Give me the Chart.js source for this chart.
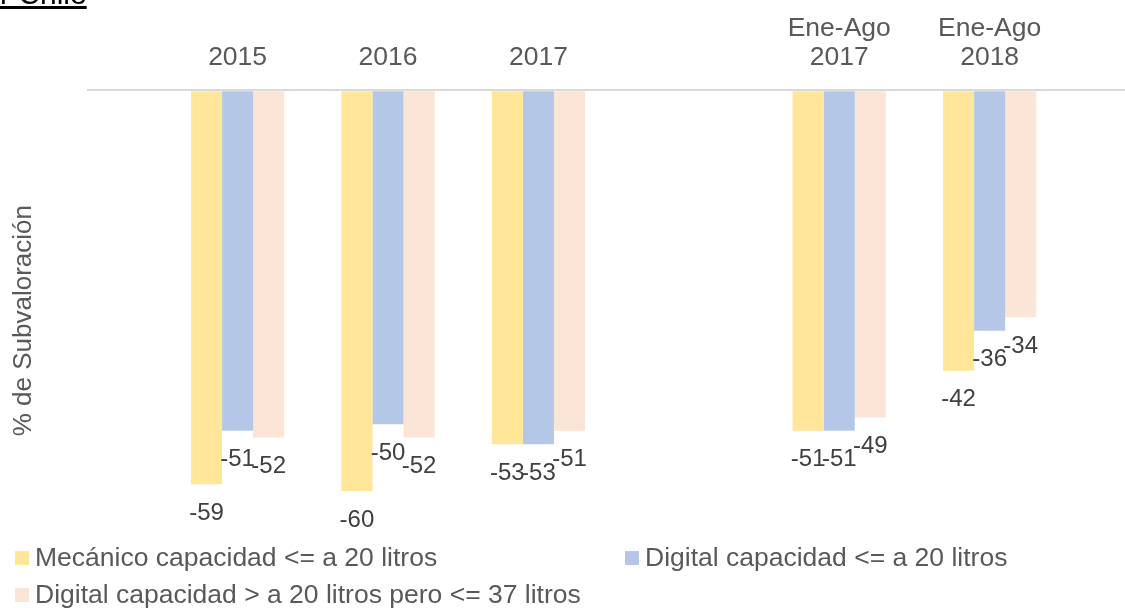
<!DOCTYPE html>
<html>
<head>
<meta charset="utf-8">
<script src="https://cdn.jsdelivr.net/npm/chart.js@4.4.1/dist/chart.umd.min.js"></script>
<style>
    body { margin: 0; background: #fff; font-family: "Liberation Sans", Arial, sans-serif; }
    #wrap { position: relative; width: 1125px; height: 608px; overflow: hidden; }
    #titulo { position: absolute; left: 0; top: -21px; font-size: 30px; line-height: 29px; color: #000; text-decoration: underline; white-space: nowrap; }
    #leyenda { position: absolute; left: 15px; top: 539px; display: grid; grid-template-columns: 610px auto; grid-auto-rows: 37px; font-size: 26.5px; color: #595959; }
    .item { display: flex; align-items: center; white-space: nowrap; }
    .caja { width: 14px; height: 14px; margin-right: 6px; }
</style>
</head>
<body>
<div id="wrap">
    <canvas id="grafico" width="1125" height="608"></canvas>
    <div id="titulo">r Chile</div>
    <div id="leyenda"></div>
</div>
<script>
const categorias = ['2015', '2016', '2017', '', ['Ene-Ago', '2017'], ['Ene-Ago', '2018']];
const series = [
    'Mecánico capacidad <= a 20 litros',
    'Digital capacidad <= a 20 litros',
    'Digital capacidad > a 20 litros pero <= 37 litros'
];
const mecanico20 = [-59, -60, -53, null, -51, -42];
const digital20 = [-51, -50, -53, null, -51, -36];
const digital37 = [-52, -52, -51, null, -49, -34];
const colores = ['#FFE699', '#B4C7E7', '#FBE5D6'];

// los valores van en un eje lineal para dejar el hueco entre 2017 y Ene-Ago
function puntos(valores) {
    const out = [];
    valores.forEach(function (v, i) {
        if (v !== null) out.push({ x: i, y: v });
    });
    return out;
}

const datasets = [mecanico20, digital20, digital37].map(function (valores, k) {
    return {
        label: series[k],
        data: puntos(valores),
        backgroundColor: colores[k],
        borderWidth: 0,
        categoryPercentage: 0.62,
        barPercentage: 1.0
    };
});

const etiquetas = {
    id: 'etiquetas',
    afterDatasetsDraw(chart) {
        const ctx = chart.ctx;
        ctx.save();
        ctx.font = '24px "Liberation Sans", Arial, sans-serif';
        ctx.fillStyle = '#404040';
        ctx.textAlign = 'center';
        ctx.textBaseline = 'middle';
        chart.data.datasets.forEach(function (ds, k) {
            const meta = chart.getDatasetMeta(k);
            meta.data.forEach(function (bar, i) {
                ctx.fillText(String(ds.data[i].y), bar.x, bar.y + 29);
            });
        });
        ctx.restore();
    }
};

const ctx = document.getElementById('grafico').getContext('2d');

const myChart = new Chart(ctx, {
    type: 'bar',
    data: { datasets: datasets },
    options: {
        responsive: false,
        animation: false,
        layout: {
            padding: { top: -4, left: 7, right: 0, bottom: 57 }
        },
        scales: {
            x: {
                type: 'linear',
                position: 'top',
                offset: false,
                min: -1,
                max: 5.9,
                grid: { display: false, drawTicks: false, offset: false },
                border: { display: false },
                afterBuildTicks: function (scale) {
                    scale.ticks = categorias.map(function (c, i) { return { value: i }; });
                },
                ticks: {
                    padding: 18,
                    color: '#595959',
                    font: { family: '"Liberation Sans", Arial, sans-serif', size: 26.5, lineHeight: 1.1 },
                    maxRotation: 0,
                    autoSkip: false,
                    callback: function (value) {
                        const c = categorias[Math.round(value)];
                        return c === undefined ? '' : c;
                    }
                }
            },
            y: {
                min: -69,
                max: 0,
                ticks: { display: false },
                grid: {
                    drawTicks: false,
                    lineWidth: 2,
                    color: function (c) { return c.tick && c.tick.value === 0 ? '#D9D9D9' : 'rgba(0,0,0,0)'; }
                },
                border: { display: false },
                title: {
                    display: true,
                    text: '% de Subvaloración',
                    color: '#595959',
                    font: { family: '"Liberation Sans", Arial, sans-serif', size: 26, lineHeight: 1.2 },
                    padding: { top: 1, bottom: 48 }
                }
            }
        },
        plugins: {
            legend: { display: false },
            tooltip: { enabled: false }
        }
    },
    plugins: [etiquetas]
});

// leyenda en html para tener las dos columnas
const leyenda = document.getElementById('leyenda');
datasets.forEach(function (ds) {
    const item = document.createElement('div');
    item.className = 'item';
    const caja = document.createElement('span');
    caja.className = 'caja';
    caja.style.background = ds.backgroundColor;
    const texto = document.createElement('span');
    texto.textContent = ds.label;
    item.appendChild(caja);
    item.appendChild(texto);
    leyenda.appendChild(item);
});
</script>
</body>
</html>
